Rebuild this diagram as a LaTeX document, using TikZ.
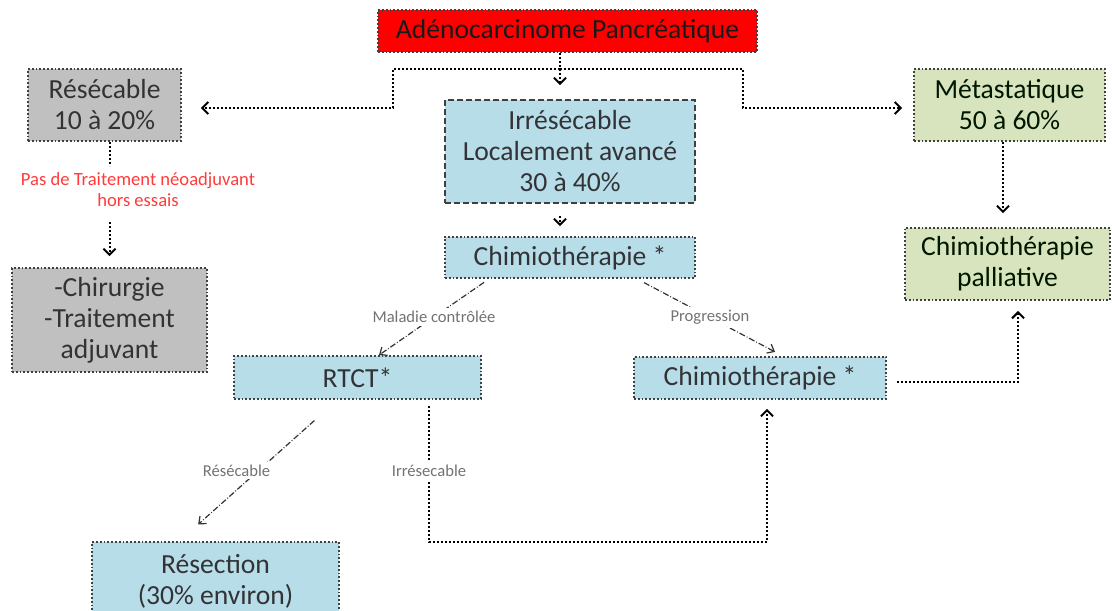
\documentclass[tikz,border=0pt]{standalone}
\usepackage{fontspec}
\setmainfont{Carlito}
\usetikzlibrary{arrows.meta}
\definecolor{colrouge}{HTML}{FF0000}
\definecolor{colgris}{HTML}{C0C0C0}
\definecolor{colbleu}{HTML}{B7DDE8}
\definecolor{colvert}{HTML}{D7E4BD}
\definecolor{coltexte}{HTML}{FF3B3B}

\begin{document}
\begin{tikzpicture}[x=0.5pt,y=-0.5pt]
\tikzset{boite/.style={draw=black!75,densely dotted,line width=0.9pt,align=center,inner sep=0pt,
                       font=\fontsize{13.8}{15.5}\selectfont},
         rouge/.style={boite,fill=colrouge,text=black!90},
         gris/.style={boite,fill=colgris,text=black!80},
         bleu/.style={boite,fill=colbleu,text=black!75!cyan!40!black},
         vert/.style={boite,fill=colvert,text=black!70!green!30!black},
         lien/.style={densely dotted,line width=1pt,-{Straight Barb[length=3pt,width=6pt]}},
         fin/.style={densely dashdotted,line width=0.6pt,black!80,-{Straight Barb[length=3pt,width=5pt]}},
         etiq/.style={font=\fontsize{8.3}{10}\selectfont,text=black!55,fill=white,inner sep=1.5pt}}
\clip (0,0) rectangle (1112,610);
\fill[white] (0,0) rectangle (1112,610);

\node[rouge,minimum width=189.5pt,minimum height=21pt] (adk) at (567.5,31) {Adénocarcinome Pancréatique};
\node[gris,minimum width=76.5pt,minimum height=36pt] (res) at (104.5,105) {Résécable\\10 à 20\%};
\node[bleu,minimum width=125pt,minimum height=51.5pt,dash pattern=on 3pt off 1.5pt] (irr) at (570,151.5)
      {Irrésécable\\Localement avancé\\30 à 40\%};
\node[vert,minimum width=95.5pt,minimum height=36pt] (meta) at (1009.5,105) {Métastatique\\50 à 60\%};
\node[bleu,minimum width=125pt,minimum height=20.5pt] (chimio) at (570,257.5) {Chimiothérapie *};
\node[vert,minimum width=102.5pt,minimum height=36pt] (palli) at (1007.5,264) {Chimiothérapie\\palliative};
\node[gris,minimum width=97.5pt,minimum height=52pt] (chir) at (109.5,320) {-Chirurgie\\-Traitement\\adjuvant};
\node[bleu,minimum width=123.5pt,minimum height=21.5pt] (rtct) at (357.5,377.5) {RTCT*};
\node[bleu,minimum width=126pt,minimum height=21pt] (chimiob) at (760,378) {Chimiothérapie *};
\node[bleu,minimum width=123.5pt,minimum height=39pt] (resec) at (215.5,581) {Résection\\(30\% environ)};
\node[font=\fontsize{9.3}{10.5}\selectfont,text=coltexte,align=center] (neo) at (138,190)
      {Pas de Traitement néoadjuvant\\hors essais};

\coordinate (split) at (560,69);
\coordinate (gauche) at (393,108);
\coordinate (droite) at (743,108);
\coordinate (bas) at (429,542);
\coordinate (retour) at (767,542);
\coordinate (palc) at (1018,382);

\draw[lien,-] (split |- adk.south) -- (split);
\draw[lien,shorten >=9.5pt] (split) -| (gauche) -- (gauche -| res.east);
\draw[lien,shorten >=5.5pt] (split) -| (droite) -- (droite -| meta.west);
\draw[lien,shorten >=7pt] (split) -- (split |- irr.north);
\draw[lien,shorten <=6pt,shorten >=5pt] (split |- irr.south) -- (split |- chimio.north);
\draw[lien,shorten >=7pt] (meta.south -| 1003,0) -- (palli.north -| 1003,0);
\draw[lien,-] (chir.north |- res.south) -- (chir.north |- neo.north);
\draw[lien,shorten <=4pt,shorten >=5.5pt] (chir.north |- neo.south) -- (chir.north);

\draw[fin,shorten <=3pt] ([xshift=-40.5pt]chimio.south) -- node[etiq] {Maladie contrôlée} ([xshift=10.75pt]rtct.north);
\draw[fin,shorten <=4pt,shorten >=4.5pt] ([xshift=33.5pt]chimio.south) -- node[etiq] {Progression} ([xshift=11.5pt]chimiob.north);
\draw[fin,shorten <=15.5pt,shorten >=12.5pt] ([xshift=-10pt]rtct.south) -- node[etiq,xshift=-11pt] {Résécable} ([xshift=-18pt]resec.north);

\draw[lien,shorten <=3pt,shorten >=4.5pt] (bas |- rtct.south) -- node[etiq] {Irrésecable} (bas) -- (retour) -- (retour |- chimiob.south);
\draw[lien,shorten <=5pt,shorten >=5pt] (chimiob.east |- palc) -- (palc) -- (palc |- palli.south);
\end{tikzpicture}
\end{document}
